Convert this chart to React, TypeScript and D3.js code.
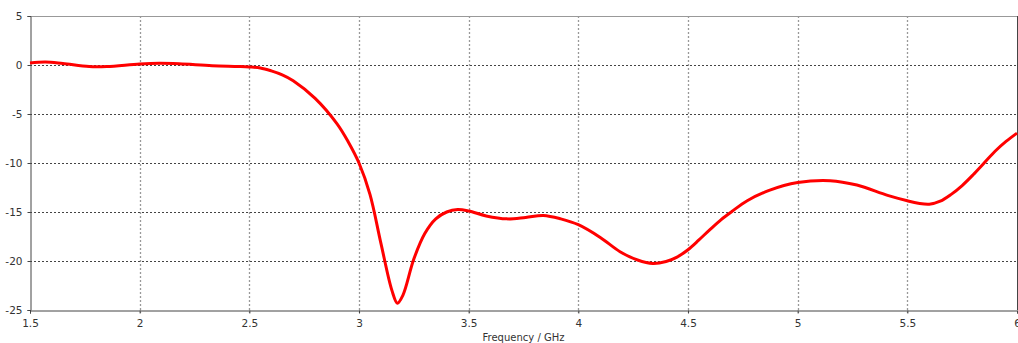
import { useEffect, useRef } from 'react'
import * as d3 from 'd3'

// frequency (GHz) and response (dB)
const FREQ = [
  1.5, 1.57, 1.65, 1.77, 1.85, 2.0, 2.09, 2.18, 2.33, 2.45, 2.5, 2.55, 2.6, 2.65, 2.7, 2.8,
  2.9, 2.95, 3.0, 3.05, 3.1, 3.15, 3.175, 3.2, 3.25, 3.3, 3.35, 3.4, 3.45,
  3.5, 3.58, 3.674, 3.76, 3.84, 3.92, 4.0, 4.1, 4.19, 4.27, 4.34, 4.4, 4.45, 4.5, 4.55, 4.6,
  4.65, 4.7, 4.77, 4.87, 5.0, 5.148, 5.27, 5.41, 5.5, 5.55, 5.6, 5.65, 5.7, 5.75, 5.8, 5.85,
  5.9, 5.95, 6.0,
]
const VALUES = [
  0.2, 0.3, 0.15, -0.15, -0.15, 0.1, 0.17, 0.12, -0.07, -0.15, -0.2, -0.3, -0.6, -1.0, -1.6, -3.4,
  -6.0, -7.8, -10.0, -13.2, -18.2, -23.0, -24.3, -23.5, -19.8, -17.2, -15.7, -15.0, -14.75,
  -14.9, -15.4, -15.7, -15.55, -15.35, -15.7, -16.3, -17.6, -19.05, -19.9, -20.25, -20.05, -19.6, -18.85, -17.85, -16.8,
  -15.8, -14.95, -13.85, -12.8, -12.0, -11.8, -12.25, -13.3, -13.85, -14.1, -14.2, -13.9, -13.2, -12.3, -11.2, -10.0,
  -8.8, -7.8, -6.95,
]
const X_TICKS = [1.5, 2, 2.5, 3, 3.5, 4, 4.5, 5, 5.5, 6]
const Y_TICKS = [5, 0, -5, -10, -15, -20, -25]
const X_LABEL = 'Frequency / GHz'

export default function App() {
  const svgRef = useRef<SVGSVGElement>(null)

  useEffect(() => {
    const svg = d3.select(svgRef.current)
    svg.selectAll('*').remove()

    const W = 1018
    const H = 343
    const left = 30, right = 1017, top = 16, bottom = 310
    const font = 'Tahoma, "DejaVu Sans", sans-serif'
    const fmt = (d: number) => String(d)

    const x = d3.scaleLinear().domain([1.5, 6]).range([left, right])
    const y = d3.scaleLinear().domain([-25, 5]).range([bottom, top])

    svg.attr('width', W).attr('height', H)

    // vertical grid
    svg.append('g').selectAll('line')
      .data(X_TICKS.slice(1, -1))
      .join('line')
      .attr('x1', (d) => Math.round(x(d)) + 0.5).attr('x2', (d) => Math.round(x(d)) + 0.5)
      .attr('y1', top).attr('y2', bottom + 3)
      .attr('stroke', '#999').attr('stroke-width', 1.3)
      .attr('stroke-dasharray', '2,2')

    // horizontal grid
    svg.append('g').selectAll('line')
      .data(Y_TICKS.slice(1, -1))
      .join('line')
      .attr('x1', left).attr('x2', right)
      .attr('y1', (d) => Math.round(y(d)) + 0.5).attr('y2', (d) => Math.round(y(d)) + 0.5)
      .attr('stroke', '#444').attr('stroke-width', 1)
      .attr('stroke-dasharray', '2,2')

    // frame
    svg.append('line')
      .attr('x1', left).attr('x2', right).attr('y1', top + 0.5).attr('y2', top + 0.5)
      .attr('stroke', '#999').attr('stroke-width', 1)
    svg.append('line')
      .attr('x1', right + 0.5).attr('x2', right + 0.5).attr('y1', top).attr('y2', bottom)
      .attr('stroke', '#444').attr('stroke-width', 1)

    // axes
    const yAxis = svg.append('g')
      .attr('transform', `translate(${left + 0.5},0)`)
      .call(d3.axisLeft(y).tickValues(Y_TICKS).tickFormat(fmt as any).tickSize(3).tickPadding(5))
    yAxis.select('.domain').attr('stroke', '#444')
    yAxis.selectAll('.tick line').attr('stroke', '#444')
    yAxis.selectAll('text')
      .attr('font-family', font).attr('font-size', 10.5).attr('fill', '#333')

    const xAxis = svg.append('g')
      .attr('transform', `translate(0,${bottom + 0.5})`)
      .call(d3.axisBottom(x).tickValues(X_TICKS).tickFormat(fmt as any).tickSize(3).tickPadding(6))
    xAxis.select('.domain').attr('stroke', '#444')
    xAxis.selectAll('.tick line').attr('stroke', '#444')
    xAxis.selectAll('text')
      .attr('font-family', font).attr('font-size', 10.5).attr('fill', '#333')

    svg.append('text')
      .attr('x', (left + right) / 2).attr('y', 341)
      .attr('text-anchor', 'middle')
      .attr('font-family', font).attr('font-size', 10).attr('fill', '#333')
      .text(X_LABEL)

    // curve
    const pts = FREQ.map((f, i) => [f, VALUES[i]] as [number, number])
    const line = d3.line<[number, number]>()
      .x((d) => x(d[0]))
      .y((d) => y(d[1]))
      .curve(d3.curveCatmullRom.alpha(0.5))

    svg.append('path')
      .datum(pts)
      .attr('d', line)
      .attr('fill', 'none')
      .attr('stroke', '#ff0000')
      .attr('stroke-width', 3)
      .attr('stroke-linejoin', 'round')
  }, [])

  return (
    <div>
      <style>{'body{margin:0;background:#fff}'}</style>
      <svg ref={svgRef} style={{ display: 'block' }} />
    </div>
  )
}
